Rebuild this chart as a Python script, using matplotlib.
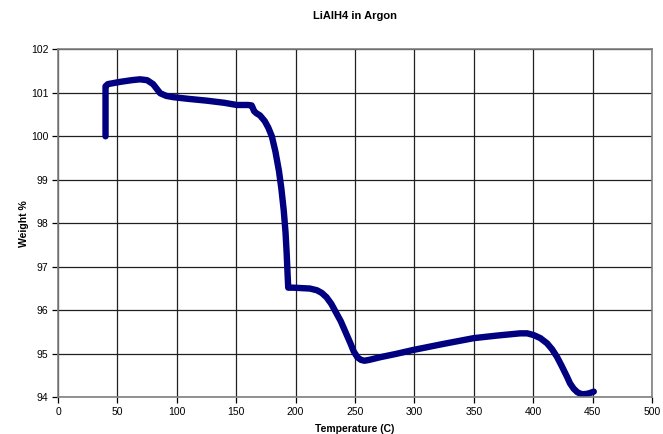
import numpy as np
import matplotlib.pyplot as plt

plt.rcParams['font.family'] = ['Liberation Sans', 'DejaVu Sans']

# TGA trace: temperature (C) and weight %
temp = [40.0, 40.0, 40.0, 42, 52, 62, 69, 75, 80, 86, 91, 97, 110, 125, 140, 150.5,
        160, 163, 164, 165, 167, 170, 174, 177, 180, 183, 186, 188, 190, 191.5,
        192.5, 193.3, 193.8, 198, 205, 212, 218, 222, 226, 230, 234, 238, 242,
        246, 249, 252, 255, 258, 262, 271, 285, 299.4, 325, 350, 370, 389, 395,
        400.4, 406, 411.7, 416, 420, 424, 428.5, 431, 434, 437, 439.8, 442, 445.4, 448, 451]
weight = [100.0, 100.6, 101.15, 101.2, 101.25, 101.29, 101.31, 101.29, 101.2, 100.99,
          100.93, 100.9, 100.86, 100.82, 100.77, 100.72, 100.72, 100.71, 100.65, 100.58,
          100.53, 100.48, 100.35, 100.2, 100.0, 99.65, 99.2, 98.8, 98.3, 97.8,
          97.3, 96.8, 96.52, 96.52, 96.51, 96.5, 96.46, 96.4, 96.3, 96.15, 95.95, 95.75, 95.5,
          95.25, 95.05, 94.92, 94.86, 94.84, 94.86, 94.92, 95.0, 95.09, 95.23, 95.36, 95.42, 95.47, 95.47,
          95.43, 95.36, 95.24, 95.1, 94.93, 94.72, 94.47, 94.32, 94.2, 94.12, 94.08, 94.07, 94.08, 94.1, 94.13]

fig = plt.figure(figsize=(6.63, 4.34), dpi=100)
ax = fig.add_axes([0.0875, 0.0846, 0.8959, 0.8018])

ax.plot(temp, weight, color='#000080', linewidth=4.6, solid_capstyle='round',
        solid_joinstyle='round')

ax.set_xlim(0, 500)
ax.set_ylim(94, 102)
ax.set_xticks(np.arange(0, 501, 50))
ax.set_yticks(np.arange(94, 103, 1))
ax.grid(True, color='#202020', linewidth=0.9)
ax.set_axisbelow(True)
for s in ax.spines.values():
    s.set_color('#808080')
    s.set_linewidth(1.2)
ax.tick_params(direction='out', length=4, width=0.9, labelsize=7.5, colors='#000000',
               pad=3)

ax.set_title('LiAlH4 in Argon', fontsize=8, fontweight='bold', pad=22)
ax.set_xlabel('Temperature (C)', fontsize=7.5, fontweight='bold', labelpad=5)
ax.set_ylabel('Weight %', fontsize=7.5, fontweight='bold', labelpad=1)

fig.savefig('out.png', dpi=100)
